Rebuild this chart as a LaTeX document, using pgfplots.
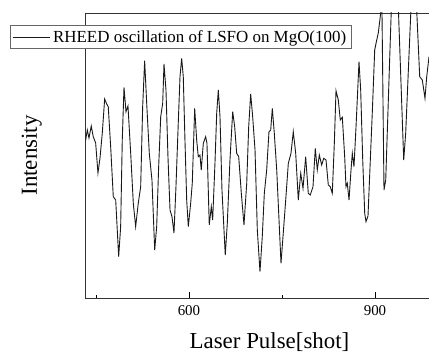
\documentclass[border=0pt]{standalone}
\usepackage{pgfplots}
\pgfplotsset{compat=1.18}
\usepackage{fontspec}
\setmainfont{Liberation Serif}
\begin{document}
\begin{tikzpicture}
\useasboundingbox (-85bp,-56bp) rectangle (344bp,298bp);
\begin{axis}[
  scale only axis,
  width=369bp, height=285bp,
  xmin=432.3, xmax=1027.4,
  ymin=0, ymax=285,
  xtick={600,900},
  minor xtick={450,750},
  ytick=\empty,
  tick align=inside,
  xtick pos=left,
  major tick length=6bp,
  minor tick length=3bp,
  every tick/.style={line width=0.8bp, black},
  axis line style={line width=0.8bp, black!80},
  /pgf/number format/assume math mode=true,
  xticklabel style={font=\fontsize{15}{18}\selectfont, yshift=-4bp},
  xlabel={Laser Pulse[shot]},
  ylabel={Intensity},
  xlabel style={font=\fontsize{23}{27}\selectfont, at={(axis description cs:0.5,-0.1789)}, anchor=base},
  ylabel style={font=\fontsize{23}{27}\selectfont, at={(axis description cs:-0.1301,0.5)}, anchor=base},
  legend style={at={(axis description cs:-0.2033,0.9579)}, anchor=north west,
    draw=black!60, line width=0.8bp, fill=white, inner xsep=2bp, inner ysep=2bp,
    font=\fontsize{17}{20}\selectfont, nodes={inner sep=3bp}, cells={anchor=west}},
  legend image code/.code={\draw[#1, line width=0.7bp] (0bp,0bp) -- (37bp,0bp);},
]
\addplot[color=black!90, line width=0.9bp, mark=none] coordinates {
(433.4,158) (436.0,168) (438.7,160) (442.4,172) (445.6,161.3) (449.5,155)
(453.2,125) (456.5,140) (460.2,165) (464.0,199) (467.3,194) (469.8,191.3)
(473.7,151.3) (477.9,101.3) (481.8,98) (486.6,41.3) (489.8,71.3) (492.4,158)
(495.2,210.7) (498.4,186.3) (501.6,192) (506.0,144.7) (510.2,94.7) (514.0,71.3)
(518.2,94.7) (522.1,111.3) (525.3,191.3) (528.5,237.3) (531.8,194.7) (536.0,144.7)
(540.3,118) (544.7,48) (547.9,71.3) (551.1,131.3) (554.4,181.3) (557.6,194.7)
(559.7,234) (562.9,208) (566.1,141.3) (569.4,88) (572.6,81.3) (575.8,65)
(579.0,111.3) (582.7,174.7) (585.5,221.3) (588.2,239.7) (590.8,221.3) (593.5,158)
(596.3,98) (598.9,71.3) (602.7,94.7) (605.3,114.7) (609.2,189.7) (612.4,158)
(615.0,141.3) (617.7,143) (619.8,128) (623.1,154.7) (626.9,161.3) (629.0,154.7)
(632.7,73) (636.0,91.3) (638.2,78) (641.9,134.7) (644.7,184.7) (647.3,208)
(650.0,181.3) (653.2,108) (658.5,43) (661.8,74.7) (666.1,138) (670.5,186.3)
(673.7,171.3) (676.9,144.7) (680.2,141.3) (684.4,104.7) (688.7,73) (693.1,114.7)
(696.3,171.3) (699.5,204) (702.7,181.3) (706.5,148) (710.2,68) (714.5,26.3)
(718.2,61.3) (721.5,104.7) (725.3,128) (729.0,166.3) (731.8,168) (734.4,189.7)
(737.6,164.7) (741.5,128) (745.2,78) (748.4,34.7) (751.6,61.3) (756.0,98)
(760.2,134.7) (764.5,144.7) (768.2,166.3) (772.1,144.7) (776.3,98) (780.2,124.7)
(783.9,109.7) (788.2,141.3) (792.4,104.7) (795.6,103) (800.0,111.3) (803.7,149.7)
(806.9,128) (810.2,143) (814.0,133) (817.3,139.7) (821.0,138) (824.7,113)
(827.9,111.3) (831.1,104.7) (834.4,154.7) (837.1,207.3) (840.8,198) (844.0,178)
(847.3,180.7) (851.1,141.3) (853.2,111.3) (855.3,114.7) (858.1,98) (861.3,128)
(863.4,144.7) (866.1,131.3) (869.4,171.3) (874.2,236.3) (876.9,208) (880.2,138)
(883.4,84.7) (885.5,76.3) (888.7,82) (891.9,130) (895.6,185) (899.5,248)
(902.1,256) (905.3,265) (909.2,285) (911.0,300) (914.5,108) (917.3,118)
(921.5,198) (931.8,393) (946.3,138) (949.5,165) (962.4,354) (972.1,221.3)
(976.3,218) (980.6,199.7) (983.4,221.3) (987.1,241.3)
};
\addlegendentry{RHEED oscillation of LSFO on MgO(100)}
\end{axis}
\end{tikzpicture}
\end{document}
